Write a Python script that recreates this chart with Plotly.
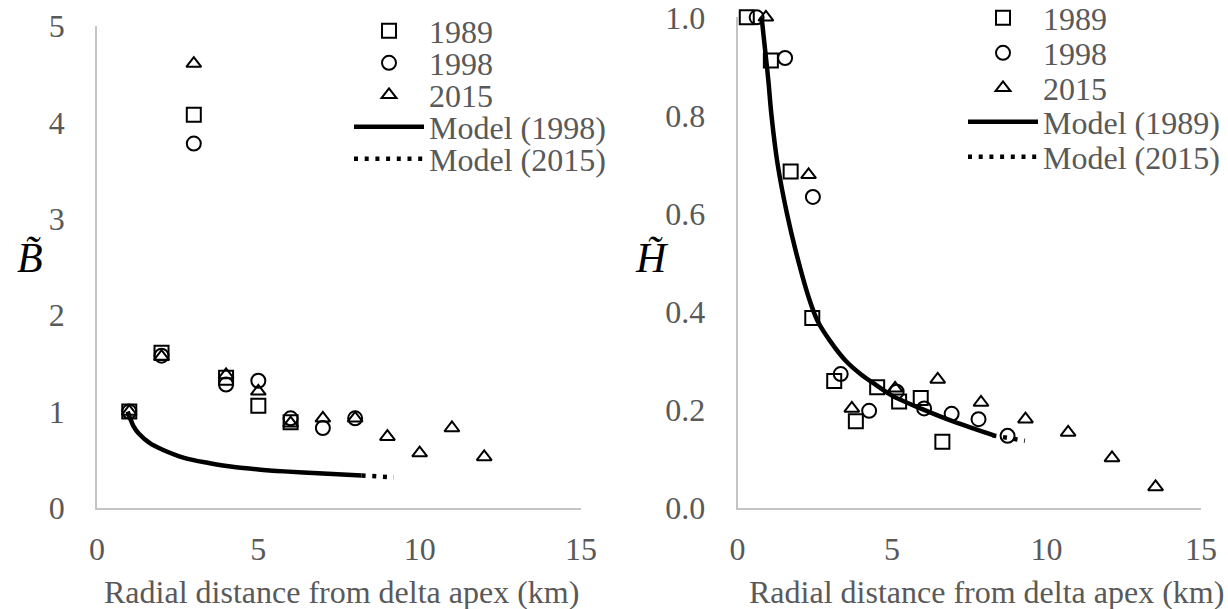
import plotly.graph_objects as go

W, H = 1228, 609
FONT = "Liberation Serif, Times New Roman, serif"
GRAY = "#595959"

# ---------------- Left panel (B~) ----------------
b_x_1989 = [1, 2, 3, 4, 5, 6]
b_y_1989 = [1.00, 1.61, 4.08, 1.35, 1.06, 0.89]
b_x_1998 = [1, 2, 3, 4, 5, 6, 7, 8]
b_y_1998 = [1.00, 1.58, 3.78, 1.28, 1.32, 0.93, 0.83, 0.93]
b_x_2015 = [1, 2, 3, 4, 5, 6, 7, 8, 9, 10, 11, 12]
b_y_2015 = [1.00, 1.57, 4.61, 1.38, 1.21, 0.88, 0.93, 0.93, 0.74, 0.57, 0.83, 0.53]
b_model1998_x = [0.95, 1.13, 1.3, 1.65, 2.0, 2.7, 3.5, 4.25, 5.0, 5.8, 6.7, 7.6, 8.2]
b_model1998_y = [1.00, 0.85, 0.77, 0.67, 0.61, 0.52, 0.465, 0.425, 0.40, 0.38, 0.362, 0.347, 0.338]
b_model2015_x = [8.2, 8.5, 8.85, 9.2]
b_model2015_y = [0.338, 0.330, 0.324, 0.318]
b_yticks = [0, 1, 2, 3, 4, 5]

# ---------------- Right panel (H~) ----------------
h_x_1989 = [0.30, 1.08, 1.72, 2.42, 3.13, 3.83, 4.52, 5.23, 5.93, 6.63]
h_y_1989 = [1.00, 0.912, 0.686, 0.387, 0.259, 0.177, 0.246, 0.217, 0.224, 0.135]
h_x_1998 = [0.62, 1.54, 2.44, 3.34, 4.26, 5.15, 6.04, 6.93, 7.80, 8.74]
h_y_1998 = [1.00, 0.917, 0.634, 0.273, 0.198, 0.237, 0.203, 0.192, 0.181, 0.147]
h_x_2015 = [0.92, 2.30, 3.70, 5.10, 6.48, 7.88, 9.32, 10.70, 12.12, 13.53]
h_y_2015 = [1.00, 0.679, 0.203, 0.244, 0.262, 0.215, 0.181, 0.154, 0.102, 0.043]
h_model1989_x = [0.78, 0.9, 1.0, 1.1, 1.3, 1.6, 1.9, 2.3, 2.6, 3.0, 3.5, 4.0, 4.5, 5.0, 6.0, 7.0, 8.3]
h_model1989_y = [1.00, 0.93, 0.87, 0.80, 0.70, 0.60, 0.52, 0.43, 0.38, 0.34, 0.30, 0.272, 0.25,
                 0.229, 0.201, 0.176, 0.148]
h_model2015_x = [8.25, 8.6, 8.95, 9.3]
h_model2015_y = [0.148, 0.145, 0.141, 0.137]
h_yticks = [0.0, 0.2, 0.4, 0.6, 0.8, 1.0]
h_yticktext = ["0.0", "0.2", "0.4", "0.6", "0.8", "1.0"]

x_ticks = [0, 5, 10, 15]
left_names = ["1989", "1998", "2015", "Model (1998)", "Model (2015)"]
right_names = ["1989", "1998", "2015", "Model (1989)", "Model (2015)"]
x_title = "Radial distance from delta apex (km)"

MARK = dict(color="black", line=dict(width=2, color="black"))


def mk(symbol, size):
    d = dict(MARK)
    d.update(symbol=symbol, size=size)
    return d


fig = go.Figure()

panels = [
    ("x", "y", [(b_x_1989, b_y_1989), (b_x_1998, b_y_1998), (b_x_2015, b_y_2015)],
     (b_model1998_x, b_model1998_y), (b_model2015_x, b_model2015_y), left_names, 1),
    ("x2", "y2", [(h_x_1989, h_y_1989), (h_x_1998, h_y_1998), (h_x_2015, h_y_2015)],
     (h_model1989_x, h_model1989_y), (h_model2015_x, h_model2015_y), right_names, 6),
]
symbols = [("square-open", 14), ("circle-open", 14), ("triangle-up-open", 13)]


def lkey(n):
    return "legend" if n == 1 else f"legend{n}"


for xa, ya, pts, solid, dotted, names, lstart in panels:
    for i, ((px, py), (sym, sz)) in enumerate(zip(pts, symbols)):
        fig.add_trace(go.Scatter(x=px, y=py, mode="markers", name=names[i],
                                 marker=mk(sym, sz), xaxis=xa, yaxis=ya,
                                 cliponaxis=False, legend=lkey(lstart + i)))
    fig.add_trace(go.Scatter(x=solid[0], y=solid[1], mode="lines", name=names[3],
                             line=dict(color="black", width=4.5, shape="spline"),
                             xaxis=xa, yaxis=ya, cliponaxis=False,
                             legend=lkey(lstart + 3)))
    fig.add_trace(go.Scatter(x=dotted[0], y=dotted[1], mode="lines", name=names[4],
                             line=dict(color="black", width=4.5, dash="4px,6.7px"),
                             xaxis=xa, yaxis=ya, cliponaxis=False,
                             legend=lkey(lstart + 4)))

# legends: one entry each, positioned like the reference
left_rows = [31, 63, 95, 127, 159]
right_rows = [18, 53, 88, 122, 157]
legend_layout = {}
for k in range(10):
    if k < 5:
        lx, ly = 349, left_rows[k]
    else:
        lx, ly = 963, right_rows[k - 5]
    legend_layout[lkey(k + 1)] = dict(
        x=lx / W, y=1 - ly / H, xanchor="left", yanchor="middle",
        bgcolor="rgba(0,0,0,0)", borderwidth=0, itemwidth=70,
        font=dict(family=FONT, size=32, color=GRAY),
    )

axis_common = dict(showline=True, linecolor="#C4C4C4", linewidth=1.5, showgrid=False,
                   zeroline=False, ticks="", ticklabeloverflow="allow",
                   tickfont=dict(family=FONT, size=32, color=GRAY))

fig.update_layout(
    width=W, height=H, autosize=False, showlegend=True,
    margin=dict(l=0, r=0, t=0, b=0, autoexpand=False),
    paper_bgcolor="white", plot_bgcolor="white",
    xaxis=dict(domain=[97 / W, 581 / W], range=[0, 15], tickmode="array", tickvals=x_ticks,
               anchor="y", ticklabelstandoff=12, **axis_common),
    yaxis=dict(domain=[1 - 508 / H, 1 - 26 / H], range=[0, 5], tickmode="array",
               tickvals=b_yticks, anchor="x", ticklabelstandoff=24, **axis_common),
    xaxis2=dict(domain=[737.5 / W, 1201 / W], range=[0, 15], tickmode="array", tickvals=x_ticks,
                anchor="y2", ticklabelstandoff=12, **axis_common),
    yaxis2=dict(domain=[1 - 508 / H, 1 - 17.3 / H], range=[0, 1], tickmode="array",
                tickvals=h_yticks, ticktext=h_yticktext, anchor="x2", ticklabelstandoff=24,
                **axis_common),
    **legend_layout,
)

annos = [
    dict(text=x_title, x=341 / W, y=1 - 592 / H),
    dict(text=x_title, x=986 / W, y=1 - 592 / H),
]
for a in annos:
    fig.add_annotation(xref="paper", yref="paper", xanchor="center", yanchor="middle",
                       showarrow=False, font=dict(family=FONT, size=32, color=GRAY), **a)

fig.add_annotation(text="<i>B\u0303</i>", xref="paper", yref="paper", x=30 / W, y=1 - 258 / H,
                   xanchor="center", yanchor="middle", showarrow=False,
                   font=dict(family=FONT, size=42, color="black"))
fig.add_annotation(text="<i>H\u0303</i>", xref="paper", yref="paper", x=652 / W, y=1 - 258 / H,
                   xanchor="center", yanchor="middle", showarrow=False,
                   font=dict(family=FONT, size=42, color="black"))

fig.write_html("out.html", config={"displayModeBar": False})
